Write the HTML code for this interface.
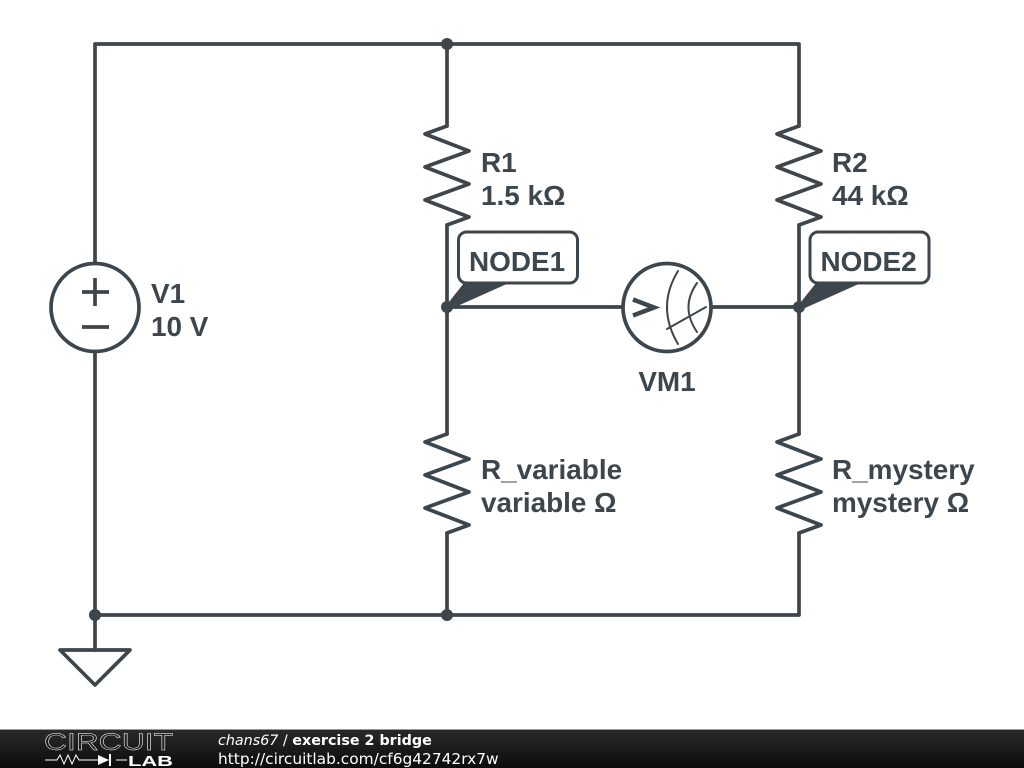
<!DOCTYPE html>
<html><head><meta charset="utf-8"><style>
html,body{margin:0;padding:0;background:#fff}
svg{display:block}
.t{font-family:"Liberation Sans",sans-serif;font-weight:700;font-size:27.900px;fill:#3c464c}
.f{font-family:"DejaVu Sans",sans-serif;fill:#fff}
</style></head><body>
<svg width="1024" height="768" viewBox="0 0 1024 768" xmlns="http://www.w3.org/2000/svg">
<defs><linearGradient id="g" x1="0" y1="0" x2="0" y2="1"><stop offset="0" stop-color="#2a2a2a"/><stop offset="1" stop-color="#0c0c0c"/></linearGradient></defs>
<rect width="1024" height="768" fill="#fff"/>
<g fill="none" stroke="#3c464c" stroke-width="3.700" stroke-linejoin="round" stroke-linecap="round">
<path d="M95 263V44H799V126M447 44V126M95 352V650M95 615H799M447 533V615M799 533V615M447 225V434M799 225V434M447 307H622M712 307H799"/>
<path d="M447 126L425 134L469 151L425 167L469 184L425 200L469 217L447 225"/>
<path d="M799 126L777 134L821 151L777 167L821 184L777 200L821 217L799 225"/>
<path d="M447 434L425 442L469 459L425 475L469 492L425 508L469 525L447 533"/>
<path d="M799 434L777 442L821 459L777 475L821 492L777 508L821 525L799 533"/>
<circle cx="95" cy="307.500" r="44" fill="#fff"/>
<path d="M82 292H109M95 278V306M82 327H109" stroke-linecap="butt"/>
<circle cx="667" cy="307.500" r="44" fill="#fff"/>
<path d="M633 299.500L654 307.500L633 315.500" stroke-width="4.500" stroke-linecap="butt" stroke-linejoin="miter"/>
<path d="M678 271Q656 307 678 344M697 283Q680 307 697 332M667 329L706 307" stroke-width="2"/>
<path d="M60 650H130L95 685Z"/>
</g>
<g fill="#fff" stroke="#3c464c" stroke-width="3">
<rect x="458.500" y="232" width="119" height="51" rx="8"/>
<rect x="810" y="232" width="119" height="51" rx="8"/>
</g>
<g fill="#3c464c">
<circle cx="447" cy="44" r="6"/><circle cx="447" cy="615" r="6"/><circle cx="95" cy="615" r="6"/>
<circle cx="447" cy="307" r="6"/><circle cx="799" cy="307" r="6"/>
<path d="M445 307L464 283H509L453 308Z"/>
<path d="M797 307L816 283H861L805 308Z"/>
</g>
<text class="t" x="469" y="271">NODE1</text>
<text class="t" x="820.500" y="271">NODE2</text>
<text class="t" x="481" y="172">R1</text>
<text class="t" x="481" y="205">1.5 kΩ</text>
<text class="t" x="832" y="172">R2</text>
<text class="t" x="832" y="205">44 kΩ</text>
<text class="t" x="151" y="303">V1</text>
<text class="t" x="151" y="336">10 V</text>
<text class="t" x="667" y="391" text-anchor="middle">VM1</text>
<text class="t" x="481" y="479">R_variable</text>
<text class="t" x="481" y="512">variable Ω</text>
<text class="t" x="832" y="479">R_mystery</text>
<text class="t" x="832" y="512">mystery Ω</text>
<rect y="729" width="1024" height="39" fill="url(#g)"/>
<rect y="729" width="1024" height="1" fill="#9a9a9a"/>
<text x="44" y="750" font-family="'Liberation Sans',sans-serif" font-size="24" fill="none" stroke="#fff" stroke-width=".45" textLength="129" lengthAdjust="spacingAndGlyphs">CIRCUIT</text>
<path d="M45 760H57L60 755L64 764L68 755L72 764L76 755L79 760H98M116 760H127" fill="none" stroke="#fff" stroke-width="1"/>
<path d="M98 755L109 760L98 765Z" fill="#fff"/>
<rect x="109" y="754" width="2" height="12" fill="#fff"/>
<text x="128" y="766" font-family="'Liberation Sans',sans-serif" font-weight="700" font-size="15" fill="#fff" textLength="45" lengthAdjust="spacingAndGlyphs">LAB</text>
<text class="f" x="218" y="745" font-size="14.300"><tspan font-style="italic">chans67</tspan> / <tspan font-weight="700">exercise 2 bridge</tspan></text>
<text class="f" x="218" y="764" font-size="15.400">http://circuitlab.com/cf6g42742rx7w</text>
</svg>
</body></html>
